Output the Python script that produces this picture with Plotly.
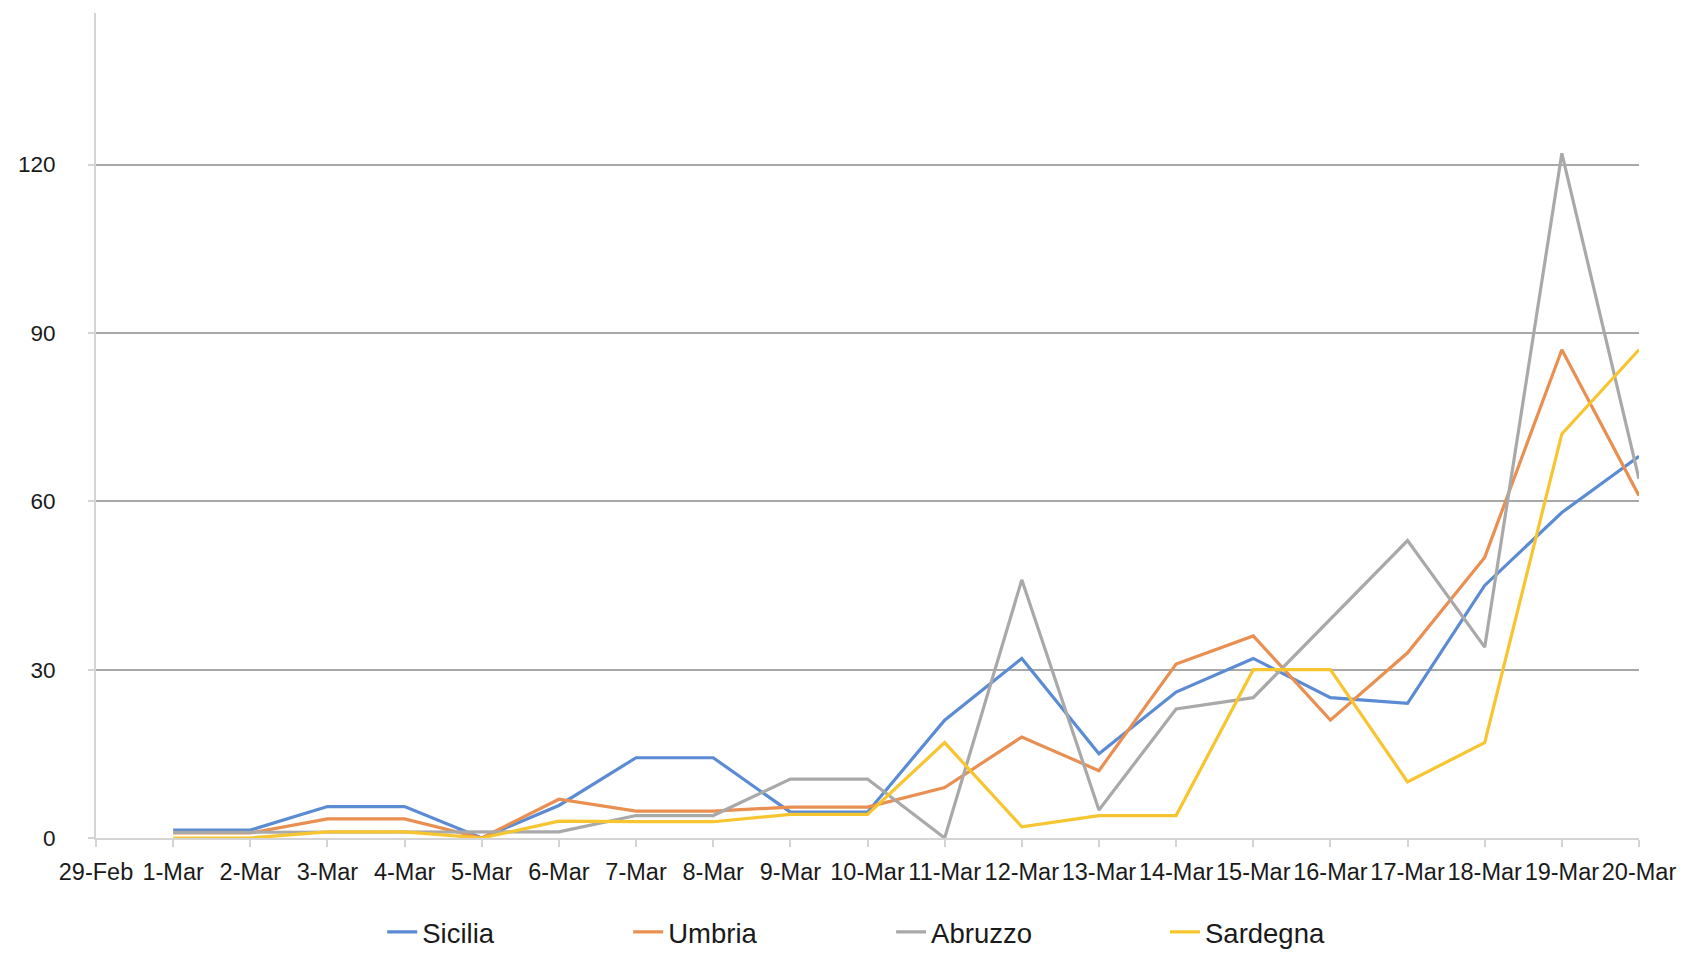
import plotly.graph_objects as go

dates = ["29-Feb", "1-Mar", "2-Mar", "3-Mar", "4-Mar", "5-Mar", "6-Mar", "7-Mar", "8-Mar",
         "9-Mar", "10-Mar", "11-Mar", "12-Mar", "13-Mar", "14-Mar", "15-Mar", "16-Mar",
         "17-Mar", "18-Mar", "19-Mar", "20-Mar"]

sicilia = [None, 1.4, 1.4, 5.6, 5.6, 0, 5.8, 14.3, 14.3, 4.6, 4.6, 21, 32, 15, 26, 32, 25, 24, 45, 58, 68]
umbria = [None, 0.9, 0.9, 3.4, 3.4, 0, 6.9, 4.8, 4.8, 5.5, 5.5, 9, 18, 12, 31, 36, 21, 33, 50, 87, 61]
abruzzo = [None, 1.0, 1.0, 1.1, 1.1, 1.1, 1.1, 4, 4, 10.5, 10.5, 0, 46, 5, 23, 25, 39, 53, 34, 122, 64]
sardegna = [None, 0, 0, 1.1, 1.1, 0, 3, 2.9, 2.9, 4.2, 4.2, 17, 2, 4, 4, 30, 30, 10, 17, 72, 87]

series = [
    ("Sicilia", sicilia, "#5B8BD3", "legend", 0.1855),
    ("Umbria", umbria, "#E98F52", "legend2", 0.3449),
    ("Abruzzo", abruzzo, "#A9A9A9", "legend3", 0.5153),
    ("Sardegna", sardegna, "#F6C530", "legend4", 0.6928),
]

font_family = "Liberation Sans, Arial, Helvetica, sans-serif"

fig = go.Figure()
legend_layouts = {}
for name, vals, color, leg, lx in series:
    fig.add_trace(go.Scatter(
        x=dates, y=vals, name=name, mode="lines",
        line=dict(color=color, width=3.2),
        connectgaps=False, legend=leg,
    ))
    legend_layouts[leg] = dict(
        orientation="h", x=lx, xanchor="left", y=-0.114, yanchor="middle",
        font=dict(size=27.5, color="#1a1a1a", family=font_family),
        bgcolor="rgba(0,0,0,0)",
    )

# the page body adds an 8px offset, so the figure is sized to fit the window
fig.update_layout(
    width=1678, height=946,
    margin=dict(l=88, r=47, t=5, b=116, autoexpand=False),
    paper_bgcolor="white", plot_bgcolor="white",
    font=dict(family=font_family, size=22, color="#1a1a1a"),
    showlegend=True,
    **legend_layouts,
)

fig.update_xaxes(
    type="category", categoryorder="array", categoryarray=dates,
    range=[0, 20], showgrid=False, zeroline=False,
    showline=True, linecolor="#d4d4d4", linewidth=2,
    ticks="outside", ticklen=7, tickcolor="#d4d4d4", tickwidth=1.5,
    tickfont=dict(size=23.5, color="#1a1a1a"),
    ticklabelstandoff=5,
)
fig.update_yaxes(
    range=[0, 147], tickvals=[0, 30, 60, 90, 120],
    showgrid=True, gridcolor="#a8a8a8", gridwidth=1.5,
    zeroline=False,
    showline=True, linecolor="#d4d4d4", linewidth=2,
    ticks="outside", ticklen=6, tickcolor="#d4d4d4", tickwidth=1.5,
    tickfont=dict(size=22.5, color="#1a1a1a"),
    ticklabelstandoff=28,
)

fig.write_html("out.html")
